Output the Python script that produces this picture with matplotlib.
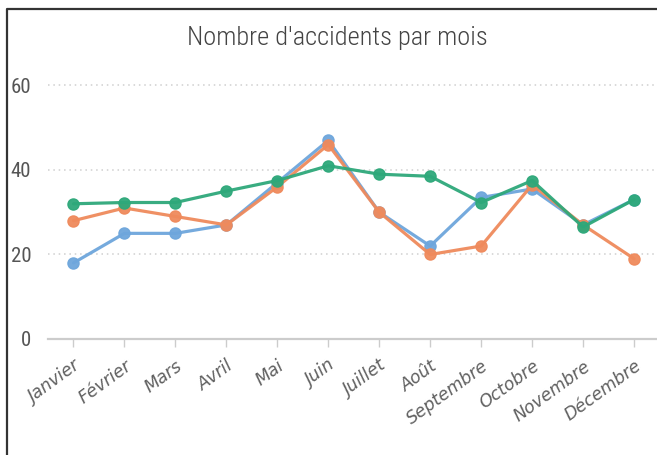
import numpy as np
import matplotlib.pyplot as plt
from matplotlib import font_manager as fm
from matplotlib.lines import Line2D

# données
mois = ["Janvier", "Février", "Mars", "Avril", "Mai", "Juin", "Juillet",
        "Août", "Septembre", "Octobre", "Novembre", "Décembre"]
serie_bleue = [18, 25, 25, 27, 37, 47, 30, 22, 33.5, 35.5, 27, 33]
serie_orange = [28, 31, 29, 27, 36, 46, 30, 20, 22, 36.5, 27, 19]
serie_verte = [32, 32.3, 32.3, 35, 37.5, 41, 39, 38.5, 32.3, 37.5, 26.5, 33]
graduations = [0, 20, 40, 60]


# chercher une police étroite installée
def police_etroite():
    preferees = ["Liberation Sans Narrow", "Roboto Condensed", "Open Sans Condensed",
                 "Noto Sans Condensed", "DejaVu Sans Condensed", "Noto Sans", "Open Sans"]
    etroites = [f for f in fm.fontManager.ttflist
                if f.style == "normal" and ("Narrow" in f.name or "Condensed" in f.name
                                            or str(f.stretch) in ("condensed", "semi-condensed",
                                                                  "extra-condensed"))]
    for nom in preferees:
        for f in etroites:
            if f.name == nom:
                return f.name, f.stretch
    if etroites:
        return etroites[0].name, etroites[0].stretch
    return "DejaVu Sans", "normal"


famille, largeur = police_etroite()
plt.rcParams['font.family'] = [famille, 'DejaVu Sans']
plt.rcParams['font.stretch'] = largeur

fig = plt.figure(figsize=(6.57, 4.55), dpi=100)
ax = fig.add_axes([48 / 657, 1 - 339 / 455, 1 - 48 / 657, (339 - 77) / 455])

x = np.arange(len(mois))
couleurs = ["#6ea6dc", "#ef8a5c", "#2ea87a"]
for i, (serie, c) in enumerate(zip([serie_bleue, serie_orange, serie_verte], couleurs)):
    ax.plot(x, serie, color=c, lw=2.3, marker="o", ms=8, mec=c, mfc=c,
            alpha=0.95, zorder=3 + i, solid_capstyle="round")

ax.set_xlim(-0.5, 11.45)
ax.set_ylim(0, 62)
ax.set_yticks(graduations)
ax.set_yticklabels([str(v) for v in graduations], fontsize=15, color="#555555",
                   stretch=largeur)
ax.set_xticks(x)
ax.set_xticklabels(mois, rotation=36, ha="right", va="top", rotation_mode="anchor",
                   fontsize=12.5, style="oblique", color="#606060",
                   family=["DejaVu Sans"], stretch="normal")

for v in graduations[1:]:
    ax.axhline(v, color="#cfcfcf", lw=1.1, ls=(0, (1, 2.5)), zorder=1)

for s in ["top", "right", "left"]:
    ax.spines[s].set_visible(False)
ax.spines["bottom"].set_color("#cccccc")
ax.spines["bottom"].set_linewidth(1.6)
ax.tick_params(axis="y", length=0, pad=12)
ax.tick_params(axis="x", length=6, width=1, color="#cccccc", pad=7)

fig.text(337 / 657, 1 - 38 / 455, "Nombre d'accidents par mois",
         ha="center", va="center", fontsize=19, color="#444444",
         stretch=largeur, weight="light")

# cadre de la capture
fig.add_artist(Line2D([7 / 657, 7 / 657, 1], [0, 1 - 9 / 455, 1 - 9 / 455],
                      color="#333333", lw=1.6, transform=fig.transFigure))

fig.savefig("out.png", dpi=100)
